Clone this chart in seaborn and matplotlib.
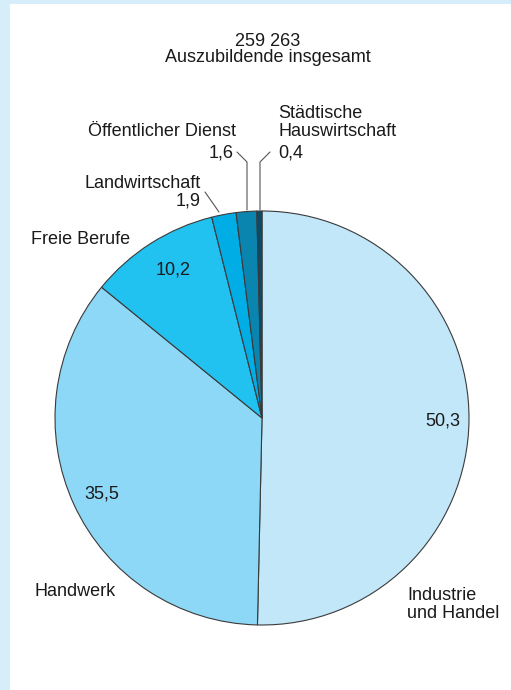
import matplotlib
matplotlib.use("Agg")
import matplotlib.pyplot as plt
from matplotlib.patches import Rectangle
import seaborn as sns

# Auszubildende nach Ausbildungsbereichen (Anteile in %)
bereiche = ["Industrie\nund Handel", "Handwerk", "Freie Berufe", "Landwirtschaft",
            "Öffentlicher Dienst", "Städtische\nHauswirtschaft"]
anteile = [50.3, 35.5, 10.2, 1.9, 1.6, 0.4]
farben = ["#c2e7f9", "#8dd8f6", "#22c2f0", "#00ade5", "#0a85b0", "#0c4a66"]
gesamt = "259 263"

sns.set_theme(style="white")
plt.rcParams["font.family"] = ["Liberation Sans", "DejaVu Sans"]

W, H = 511, 690
fig = plt.figure(figsize=(W / 100, H / 100), dpi=100)
fig.patch.set_facecolor("#d6eefa")
fig.patches.append(Rectangle((10 / W, 0), 1, 1 - 4 / H, transform=fig.transFigure,
                             facecolor="white", edgecolor="none", zorder=-5))

ax = fig.add_axes([0, 0, 1, 1])
ax.set_zorder(1)
ax.patch.set_alpha(0)

def Y(y):
    return H - y

cx, cy, r = 262, Y(418), 207
ax.pie(anteile, colors=farben, startangle=90, counterclock=False,
       center=(cx, cy), radius=r, frame=True,
       wedgeprops=dict(edgecolor="#3a3a3a", linewidth=0.8))
ax.set_xlim(0, W)
ax.set_ylim(0, H)
ax.set_aspect("equal")
ax.axis("off")

fs = 13
tc = "#1a1a1a"

def label(x, y, s, ha="left", step=17):
    for i, line in enumerate(s.split("\n")):
        ax.text(x, Y(y + 2 + i * step), line, ha=ha, va="center", fontsize=fs, color=tc)

def fmt(v):
    return f"{v:.1f}".replace(".", ",")

label(268, 39, gesamt + "\nAuszubildende insgesamt", ha="center", step=16)

# Wertangaben innerhalb der Segmente
label(443, 419, fmt(anteile[0]), ha="center")
label(102, 492, fmt(anteile[1]), ha="center")
label(173, 268, fmt(anteile[2]), ha="center")

# Bereichsnamen
label(407, 594, bereiche[0])
label(34, 590, bereiche[1])
label(31, 238, bereiche[2])
label(201, 181, bereiche[3], ha="right")
label(201, 199, fmt(anteile[3]), ha="right")
label(236, 130, bereiche[4], ha="right")
label(234, 151, fmt(anteile[4]), ha="right")
label(278, 112, bereiche[5], step=18)
label(278, 151, fmt(anteile[5]))

# Hinweislinien
lc = "#555555"
ax.plot([205, 219], [Y(192), Y(212)], color=lc, lw=0.8)
ax.plot([237, 247, 247], [Y(152), Y(162), Y(210)], color=lc, lw=0.8)
ax.plot([270, 260, 260], [Y(152), Y(162), Y(210)], color=lc, lw=0.8)

fig.savefig("out.png", dpi=100, facecolor=fig.get_facecolor())
